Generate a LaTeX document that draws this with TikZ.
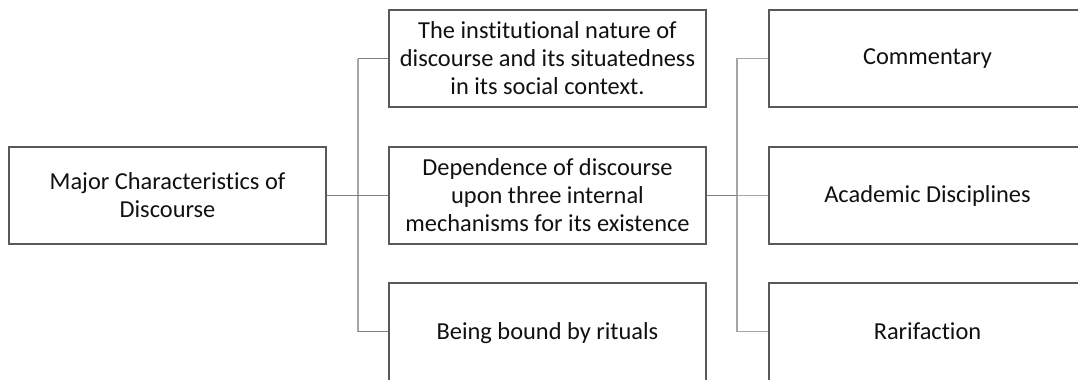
\documentclass[tikz,border=0pt]{standalone}
\usepackage{fontspec}
\setmainfont[Ligatures={NoCommon}]{Carlito}
\begin{document}
\begin{tikzpicture}[x=0.75pt,y=-0.75pt,
  txt/.style={align=center, text=textcol, inner sep=0pt,
    font=\fontsize{18.3pt}{21pt}\selectfont},
  box/.style={txt, draw=boxline, line width=1.5pt, fill=white, rectangle,
    minimum width=237.75pt, minimum height=72.75pt},
  lowbox/.style={box, minimum height=76pt},
  openbox/.style={draw=boxline, line width=1.5pt, fill=white, rectangle,
    minimum width=255pt, inner sep=0pt},
  trunk/.style={draw=trunkline, line width=1.4pt},
  link/.style={draw=linkline, line width=1.4pt}]
\definecolor{boxline}{HTML}{595959}
\definecolor{trunkline}{HTML}{A6A6A6}
\definecolor{linkline}{HTML}{808080}
\definecolor{textcol}{HTML}{111111}
\useasboundingbox (0,0) rectangle (1078,379);

% junction points of the two brackets
\coordinate (j1) at (358,195.5);
\coordinate (j2) at (737,195.5);

\node[box] (root) at (167.5,195.5) {Major Characteristics of\\Discourse};
\node[box] (mid1) at (547.5,58.5) {The institutional nature of\\discourse and its situatedness\\in its social context.};
\node[box] (mid2) at (547.5,195.5) {Dependence of discourse\\upon three internal\\mechanisms for its existence};
\node[lowbox] (mid3) at (547.5,333.5) {Being bound by rituals};

% right column: boxes run past the right margin
\node[openbox, minimum height=72.75pt] (out1) at (939,58.5) {};
\node[openbox, minimum height=72.75pt] (out2) at (939,195.5) {};
\node[openbox, minimum height=76pt] (out3) at (939,333.5) {};
\node[txt] (out1t) at (927.5,58.5) {Commentary};
\node[txt] (out2t) at (927.5,195.5) {Academic Disciplines};
\node[txt] (out3t) at (927.5,331.5) {Rarifaction};

% left bracket
\coordinate (b1) at (j1 |- mid1.west);
\coordinate (b3) at (358,331.5);
\coordinate (m3in) at (mid3.west |- b3);
\draw[trunk] (b1) -- (b3);
\draw[link] (root.east) -- (j1) -- (mid2.west);
\draw[link] (b1) -- (mid1.west);
\draw[link] (b3) -- (m3in);

% right bracket
\coordinate (c3) at (737,331.5);
\coordinate (o3in) at (out3.west |- c3);
\draw[trunk] (out1.west) -| (j2) |- (o3in);
\draw[link] (mid2.east) -- (j2);
\draw[trunk] (j2) -- (out2.west);
\end{tikzpicture}
\end{document}
